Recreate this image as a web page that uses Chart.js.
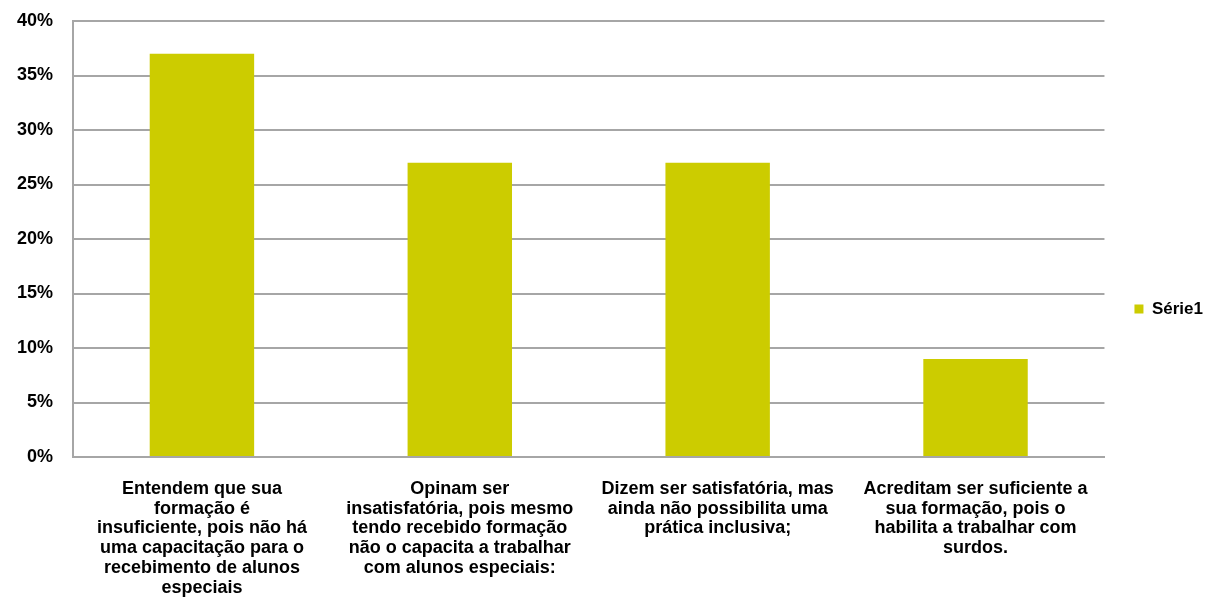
<!DOCTYPE html>
<html>
<head>
<meta charset="utf-8">
<script src="https://cdn.jsdelivr.net/npm/chart.js@4/dist/chart.umd.min.js"></script>
<style>
  html, body { margin: 0; padding: 0; background: #fff; }
  #wrap { width: 1213px; height: 597px; }
</style>
</head>
<body>
<div id="wrap"><canvas id="barChart" width="1213" height="597"></canvas></div>
<script>
// Categorias (rótulos já quebrados em linhas)
const categorias = [
    ['Entendem que sua', 'formação é', 'insuficiente, pois não há', 'uma capacitação para o', 'recebimento de alunos', 'especiais'],
    ['Opinam ser', 'insatisfatória, pois mesmo', 'tendo recebido formação', 'não o capacita a trabalhar', 'com alunos especiais:'],
    ['Dizem ser satisfatória, mas', 'ainda não possibilita uma', 'prática inclusiva;'],
    ['Acreditam ser suficiente a', 'sua formação, pois o', 'habilita a trabalhar com', 'surdos.']
];
const serie1 = [37, 27, 27, 9];
const ticksY = [0, 5, 10, 15, 20, 25, 30, 35, 40];

const gridCor = '#a6a6a6';
const barCor = '#cccc00';

const ctx = document.getElementById('barChart').getContext('2d');

new Chart(ctx, {
    type: 'bar',
    data: {
        labels: categorias,
        datasets: [{
            label: 'Série1',
            data: serie1,
            backgroundColor: barCor,
            borderWidth: 0,
            categoryPercentage: 1,
            barPercentage: 0.405
        }]
    },
    options: {
        responsive: false,
        animation: false,
        layout: { padding: { top: 21, left: 0, right: 0, bottom: 0 } },
        plugins: {
            tooltip: { enabled: false },
            legend: {
                position: 'right',
                labels: {
                    color: '#000',
                    boxWidth: 9,
                    boxHeight: 9,
                    padding: 30,
                    font: { family: 'Liberation Sans, Arial', size: 17, weight: 'bold' }
                }
            }
        },
        scales: {
            y: {
                min: 0,
                max: 40,
                afterBuildTicks: function(scale) {
                    scale.ticks = ticksY.map(v => ({ value: v }));
                },
                // largura fixa do eixo e sem folga extra acima do rótulo 40%
                afterFit: function(scale) {
                    scale.width = 73;
                    scale.paddingTop = 0;
                    scale.paddingBottom = 0;
                },
                grid: { color: gridCor, lineWidth: 2, drawTicks: false },
                border: { color: gridCor, width: 2 },
                ticks: {
                    color: '#000',
                    padding: 20,
                    font: { family: 'Liberation Sans, Arial', size: 18, weight: 'bold' },
                    callback: v => v + '%'
                }
            },
            x: {
                afterFit: function(scale) {
                    scale.height = 140;
                    scale.paddingLeft = 0;
                    scale.paddingRight = 0;
                },
                grid: { display: false },
                border: { color: gridCor, width: 2 },
                ticks: {
                    color: '#000',
                    padding: 14,
                    maxRotation: 0,
                    autoSkip: false,
                    font: { family: 'Liberation Sans, Arial', size: 18, weight: 'bold', lineHeight: 1.1 }
                }
            }
        }
    }
});
</script>
</body>
</html>
